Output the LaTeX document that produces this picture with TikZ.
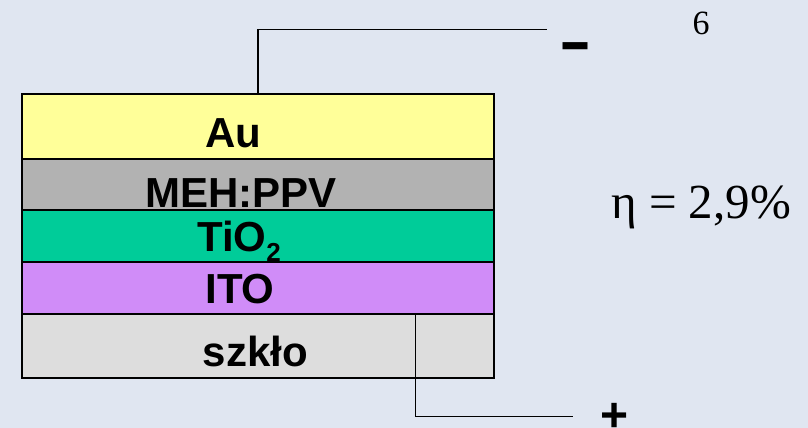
\documentclass[tikz,border=0pt]{standalone}
\usepackage{fontspec}
\usepackage{graphicx}
\setmainfont{Liberation Serif}
\newfontfamily\arialfont{Liberation Sans}
\definecolor{bgcol}{HTML}{E0E6F1}
\definecolor{aucol}{HTML}{FFFF99}
\definecolor{mehcol}{HTML}{B2B2B2}
\definecolor{tiocol}{HTML}{00CC99}
\definecolor{itocol}{HTML}{D08CF8}
\definecolor{glasscol}{HTML}{DDDDDD}
\begin{document}
\begin{tikzpicture}[x=1pt,y=-1pt,
  layer/.style={draw=black,line width=1.8pt,minimum width=472.6pt,inner sep=0pt,outer sep=0pt},
  lbl/.style={inner sep=0pt,anchor=base,font=\arialfont\bfseries\fontsize{42}{42}\selectfont},
  sign/.style={inner sep=0pt,anchor=base,font=\arialfont\bfseries\fontsize{48}{48}\selectfont},
  wire/.style={line width=1.4pt}]
\fill[bgcol] (0,0) rectangle (808,428);
\useasboundingbox (0,0) rectangle (808,428);
% layers
\node[layer,fill=glasscol,minimum height=64.3pt] (szklo) at (258,346.15) {};
\node[layer,fill=itocol,minimum height=51.7pt] (ito) at (258,288.15) {};
\node[layer,fill=tiocol,minimum height=52pt] (tio) at (258,236.3) {};
\node[layer,fill=mehcol,minimum height=51.3pt] (meh) at (258,184.65) {};
\node[layer,fill=aucol,minimum height=65pt] (au) at (258,126.5) {};
% labels
\node[lbl] (lau) at (233,147.7) {Au};
\node[lbl] (lmeh) at (241,207.7) {MEH:PPV};
\node[lbl] (ltio) at (239,251.7) {TiO\raisebox{-10pt}{\fontsize{26}{26}\selectfont 2}};
\node[lbl] (lito) at (240,303.3) {ITO};
\node[lbl] (lszklo) at (255.3,366.7) {szkło};
% wires
\coordinate (mend) at (547.4,29.7);
\coordinate (ptop) at (415.7,314);
\coordinate (pend) at (573,416.7);
\draw[wire] (au.north) |- (mend);
\draw[wire] (ptop) |- (pend);
% signs
\node[sign] (minus) at (575.3,65.5) {\scalebox{1.05}[1.5]{–}};
\node[sign] (plus) at (614.8,431.5) {+};
% texts
\node[inner sep=0pt,anchor=base,font=\fontsize{34}{34}\selectfont] (six) at (701,35) {6};
\node[inner sep=0pt,anchor=base west,font=\fontsize{49}{49}\selectfont] (eta) at (611,218) {η = 2,9\%};
\end{tikzpicture}
\end{document}
